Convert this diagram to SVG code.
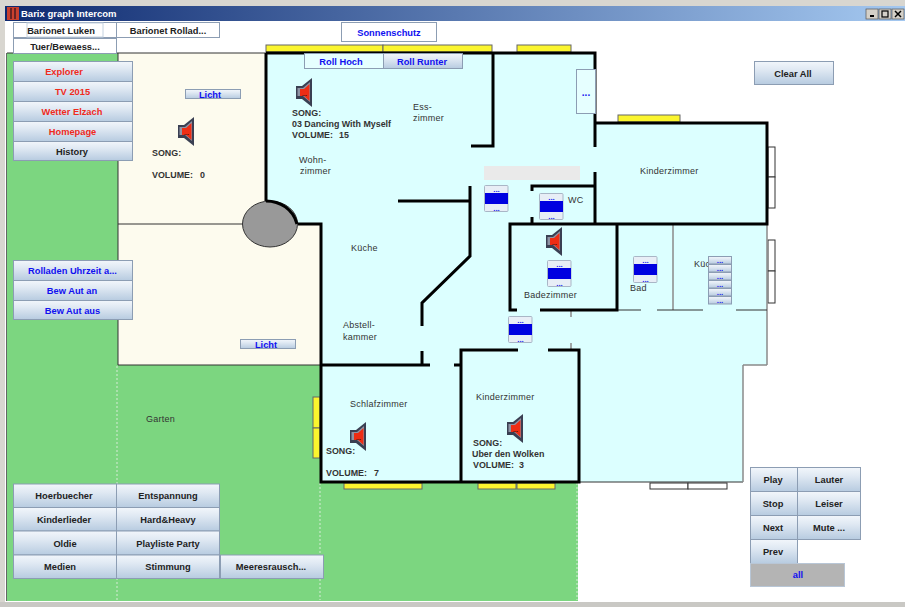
<svg xmlns="http://www.w3.org/2000/svg" xmlns:xlink="http://www.w3.org/1999/xlink" width="905" height="607" viewBox="0 0 905 607">
<style>
text{font-family:"Liberation Sans",Arial,sans-serif;font-size:9.300px;font-weight:bold;fill:#222;}
.c{text-anchor:middle}
.red{fill:#f02a1c}
.blue{fill:#1010f0}
.room{font-weight:normal;font-size:9px;letter-spacing:.25px;fill:#333}
.info{fill:#333;font-size:8.900px}
.btn{fill:url(#metal);stroke:#8c9db3;stroke-width:1}
.flat{fill:#fff;stroke:#8c9db3;stroke-width:1}
.wall{fill:none;stroke:#000;stroke-width:3}
.thin{fill:none;stroke:#333;stroke-width:1}
.grey{fill:none;stroke:#8a8a8a;stroke-width:1.5}
.win{fill:#fbf52e;stroke:#666;stroke-width:1}
.wwin{fill:#fff;stroke:#333;stroke-width:1}
.dots{font-size:8px;fill:#2020f0}
.dash{stroke:#d6ecd6;stroke-width:1;stroke-dasharray:2 2;fill:none}
</style>
<defs>
<linearGradient id="metal" x1="0" y1="0" x2="0" y2="1"><stop offset="0" stop-color="#f2f6fb"/><stop offset=".35" stop-color="#e0e9f3"/><stop offset="1" stop-color="#b7cbe0"/></linearGradient>
<linearGradient id="title" x1="0" y1="0" x2="1" y2="0"><stop offset="0" stop-color="#0e2a70"/><stop offset="1" stop-color="#a4c8f0"/></linearGradient>
<g id="speaker">
<path d="M0 8H6L16 0V29L6 21H0Z" fill="#3a3f52"/>
<path d="M1.500 10H7L14 4V24L7 18H1.500Z" fill="#8f93a4"/>
<path d="M4 11H8L13.500 6V23L8 18H4Z" fill="#ee2d14"/>
<text x="8.500" y="18" class="c" style="font-size:6px;fill:#111">...</text>
</g>
<g id="blind">
<rect x=".5" y=".5" width="23.500" height="26" rx="1" fill="#e8eef6" stroke="#a9b6c6"/>
<rect x="1" y="8" width="23" height="11" fill="#0000e0"/>
<text x="12.500" y="7" class="c dots">...</text>
<text x="12.500" y="25.500" class="c dots">...</text>
</g>
<g id="slat">
<rect x=".5" y=".5" width="23" height="7.500" class="btn"/>
<text x="12" y="7" class="c dots">...</text>
</g>
</defs>

<g id="window">
<rect width="905" height="607" fill="#fff"/>
<rect width="905" height="6" fill="#d8d6d0"/>
<rect y="0" width="5" height="607" fill="#d8d6d0"/>
<rect y="602" width="905" height="5" fill="#c9c8c4"/>
<rect x="5" y="6" width="900" height="15" fill="url(#title)"/>
<rect x="7" y="7" width="12" height="13" fill="#c9402e"/>
<path d="M11 8V19M15 8V19" stroke="#4a1a20" stroke-width="1.500"/>
<text x="21" y="17" style="fill:#fff;font-size:9.500px">Barix graph Intercom</text>
<g fill="#d4d0c8" stroke="#555" stroke-width=".7">
<rect x="866" y="9" width="12" height="10"/><rect x="879" y="9" width="12" height="10"/><rect x="892" y="9" width="12" height="10"/>
</g>
<path d="M870 16H874" stroke="#000" stroke-width="2"/>
<rect x="882" y="11" width="6" height="6" fill="none" stroke="#000" stroke-width="1.200"/>
<path d="M895 11L901 17M901 11L895 17" stroke="#000" stroke-width="1.500"/>
</g>

<g id="plan">
<rect x="7" y="53" width="571" height="548" fill="#7cd680"/>
<path d="M118 53H266V224H321V365H118Z" fill="#fdfbee"/>
<path d="M266 53H595V123H767V365H743V482H321V224H266Z" fill="#dcffff"/>
<path d="M117 366V600M320 483V600M577 483V600" class="dash"/>
<path d="M6.500 53V601" stroke="#666" fill="none"/>
<rect x="484" y="166" width="96" height="14" fill="#eaeaea"/>
</g>

<g id="windows">
<rect x="266" y="45" width="117" height="7" class="win"/>
<rect x="383" y="45" width="109" height="7" class="win"/>
<rect x="517" y="45" width="54" height="7" class="win"/>
<rect x="618" y="115" width="62" height="7" class="win"/>
<rect x="313" y="397" width="7" height="31" class="win"/>
<rect x="313" y="428" width="7" height="30" class="win"/>
<rect x="344" y="483" width="78" height="6" class="win"/>
<rect x="478" y="483" width="38" height="6" class="win"/>
<rect x="517" y="483" width="38" height="6" class="win"/>
<rect x="768" y="147" width="7" height="30" class="wwin"/>
<rect x="768" y="177" width="7" height="31" class="wwin"/>
<rect x="768" y="240" width="7" height="31" class="wwin"/>
<rect x="768" y="271" width="7" height="32" class="wwin"/>
<rect x="650" y="483" width="38" height="6" class="wwin"/>
<rect x="688" y="483" width="39" height="6" class="wwin"/>
</g>

<g id="connectors">
<path class="thin" d="M7 53H266M118 53V365M118 224H243M118 365H321M579 482H743"/>
<path class="grey" d="M767 224V365M743 365H767M743 365V482M673 224V310M571 310V317M571 343V350"/>
<path class="thin" d="M617 310H641M657 310H703M736 310H767"/>
<path class="wall" d="M266 53H595V147M595 172V224M595 123H767V224H510V310H517M540 310H617V224"/>
<path class="wall" d="M493 53V146H471M398 201H470M470 186V256L422 303V326M422 351V365M321 365H430M454 365H461M298 224H321V482H579V350H548M518 350H461V482"/>
<path class="wall" d="M532 191V186H595M532 217V224M266 53V201"/>
<ellipse cx="270" cy="224" rx="27.500" ry="23" fill="#999" stroke="#333" stroke-width="1"/>
<path d="M266 201C280 201 293 209 297 224" class="wall"/>
</g>

<g id="labels">
<text class="room" x="413" y="110">Ess-</text>
<text class="room" x="413" y="121">zimmer</text>
<text class="room" x="299" y="163">Wohn-</text>
<text class="room" x="300" y="174">zimmer</text>
<text class="room" x="351" y="251">Küche</text>
<text class="room" x="343" y="328">Abstell-</text>
<text class="room" x="343" y="340">kammer</text>
<text class="room" x="568" y="203">WC</text>
<text class="room" x="640" y="174">Kinderzimmer</text>
<text class="room" x="524" y="298">Badezimmer</text>
<text class="room" x="630" y="291">Bad</text>
<text class="room" x="694" y="267">Küc</text>
<text class="room" x="146" y="422">Garten</text>
<text class="room" x="350" y="407">Schlafzimmer</text>
<text class="room" x="476" y="400">Kinderzimmer</text>
</g>

<g id="speaker-1"><use href="#speaker" x="178" y="117"/><text class="info" x="152" y="156">SONG:</text><text class="info" x="152" y="178">VOLUME:</text><text class="info" x="200" y="178">0</text></g>
<g id="speaker-2"><use href="#speaker" x="296" y="78"/><text class="info" x="292" y="116">SONG:</text><text class="info" x="292" y="127">03 Dancing With Myself</text><text class="info" x="292" y="138">VOLUME:</text><text class="info" x="339" y="138">15</text></g>
<g id="speaker-3"><use href="#speaker" x="546" y="227"/></g>
<g id="speaker-4"><use href="#speaker" x="350" y="422"/><text class="info" x="326" y="454">SONG:</text><text class="info" x="326" y="476">VOLUME:</text><text class="info" x="374" y="476">7</text></g>
<g id="speaker-5"><use href="#speaker" x="507" y="414"/><text class="info" x="473" y="446">SONG:</text><text class="info" x="472" y="457">Uber den Wolken</text><text class="info" x="473" y="468">VOLUME:</text><text class="info" x="519" y="468">3</text></g>

<g id="blind-1"><use href="#blind" x="484" y="185"/></g>
<g id="blind-2"><use href="#blind" x="539" y="193"/></g>
<g id="blind-3"><use href="#blind" x="547" y="260"/></g>
<g id="blind-4"><use href="#blind" x="633" y="256"/></g>
<g id="blind-5"><use href="#blind" x="508" y="316"/></g>
<g id="blind-stack"><use href="#slat" x="708" y="256"/><use href="#slat" x="708" y="264"/><use href="#slat" x="708" y="272"/><use href="#slat" x="708" y="280"/><use href="#slat" x="708" y="288"/><use href="#slat" x="708" y="296"/></g>

<g id="tabs">
<g id="btn-luken"><rect class="flat" x="13.500" y="22.500" width="103" height="15"/><rect x="27" y="23" width="76" height="14" fill="none" stroke="#c4d2e0"/><text class="c" x="61" y="34">Barionet Luken</text></g>
<g id="btn-rollad"><rect class="flat" x="116.500" y="22.500" width="103" height="15"/><text class="c" x="168" y="34">Barionet Rollad...</text></g>
<g id="btn-tuer"><rect class="flat" x="13.500" y="38.500" width="103" height="15"/><text class="c" x="65" y="50">Tuer/Bewaess...</text></g>
<g id="btn-sonne"><rect class="flat" x="341.500" y="22.500" width="95" height="19"/><text class="c blue" x="389" y="36">Sonnenschutz</text></g>
<g id="btn-hoch"><rect class="flat" x="304.500" y="53.500" width="79" height="15" style="fill:#e6ffff"/><text class="c blue" x="341" y="65">Roll Hoch</text></g>
<g id="btn-runter"><rect class="btn" x="383.500" y="53.500" width="79" height="15"/><text class="c blue" x="422" y="65">Roll Runter</text></g>
<g id="btn-dots"><rect class="flat" x="576.500" y="69.500" width="19" height="44" style="fill:#e6ffff"/><text class="c dots" x="586" y="96" style="font-size:10px">...</text></g>
<g id="btn-clear"><rect class="btn" x="754.500" y="61.500" width="79" height="23"/><text class="c" x="793" y="77">Clear All</text></g>
<g id="btn-licht1"><rect class="btn" x="185.500" y="89.500" width="55" height="9"/><text class="c blue" x="210" y="98">Licht</text></g>
<g id="btn-licht2"><rect class="btn" x="240.500" y="339.500" width="55" height="9"/><text class="c blue" x="266" y="348">Licht</text></g>
</g>

<g id="menu">
<g id="btn-explorer"><rect class="btn" x="13.500" y="61.500" width="119" height="20"/><text class="c red" x="64" y="75">Explorer</text></g>
<g id="btn-tv"><rect class="btn" x="13.500" y="81.500" width="119" height="20"/><text class="c red" x="72.500" y="95">TV 2015</text></g>
<g id="btn-wetter"><rect class="btn" x="13.500" y="101.500" width="119" height="20"/><text class="c red" x="72" y="115">Wetter Elzach</text></g>
<g id="btn-home"><rect class="btn" x="13.500" y="121.500" width="119" height="20"/><text class="c red" x="72.500" y="135">Homepage</text></g>
<g id="btn-history"><rect class="btn" x="13.500" y="141.500" width="119" height="19"/><text class="c" x="72" y="155">History</text></g>
<g id="btn-rolladen"><rect class="btn" x="13.500" y="260.500" width="119" height="20"/><text class="c blue" x="72.500" y="274">Rolladen Uhrzeit a...</text></g>
<g id="btn-bewan"><rect class="btn" x="13.500" y="280.500" width="119" height="20"/><text class="c blue" x="72" y="294">Bew Aut an</text></g>
<g id="btn-bewaus"><rect class="btn" x="13.500" y="300.500" width="119" height="19"/><text class="c blue" x="72.500" y="314">Bew Aut aus</text></g>
</g>

<g id="playlists">
<g id="btn-hoer"><rect class="btn" x="13.500" y="484" width="103" height="23.500"/><text class="c" x="64" y="499">Hoerbuecher</text></g>
<g id="btn-entsp"><rect class="btn" x="116.500" y="484" width="103" height="23.500"/><text class="c" x="168" y="499">Entspannung</text></g>
<g id="btn-kinder"><rect class="btn" x="13.500" y="507.500" width="103" height="23.500"/><text class="c" x="64" y="523">Kinderlieder</text></g>
<g id="btn-hard"><rect class="btn" x="116.500" y="507.500" width="103" height="23.500"/><text class="c" x="168" y="523">Hard&amp;Heavy</text></g>
<g id="btn-oldie"><rect class="btn" x="13.500" y="531" width="103" height="24"/><text class="c" x="65" y="547">Oldie</text></g>
<g id="btn-party"><rect class="btn" x="116.500" y="531" width="103" height="24"/><text class="c" x="168" y="547">Playliste Party</text></g>
<g id="btn-medien"><rect class="btn" x="13.500" y="555" width="103" height="23.500"/><text class="c" x="60" y="570">Medien</text></g>
<g id="btn-stimm"><rect class="btn" x="116.500" y="555" width="103" height="23.500"/><text class="c" x="168" y="570">Stimmung</text></g>
<g id="btn-meer"><rect class="btn" x="220.500" y="555" width="103" height="23.500"/><text class="c" x="271" y="570">Meeresrausch...</text></g>
</g>

<g id="player">
<g id="btn-play"><rect class="btn" x="750.500" y="467.500" width="47" height="24"/><text class="c" x="773" y="483">Play</text></g>
<g id="btn-lauter"><rect class="btn" x="797.500" y="467.500" width="63" height="24"/><text class="c" x="829" y="483">Lauter</text></g>
<g id="btn-stop"><rect class="btn" x="750.500" y="491.500" width="47" height="24"/><text class="c" x="773" y="507">Stop</text></g>
<g id="btn-leiser"><rect class="btn" x="797.500" y="491.500" width="63" height="24"/><text class="c" x="829" y="507">Leiser</text></g>
<g id="btn-next"><rect class="btn" x="750.500" y="515.500" width="47" height="24"/><text class="c" x="773" y="531">Next</text></g>
<g id="btn-mute"><rect class="btn" x="797.500" y="515.500" width="63" height="24"/><text class="c" x="829" y="531">Mute ...</text></g>
<g id="btn-prev"><rect class="btn" x="750.500" y="539.500" width="47" height="24"/><text class="c" x="773" y="555">Prev</text></g>
<g id="btn-all"><rect x="750.500" y="563.500" width="94" height="23" fill="#b4b4b4" stroke="#b8c6d6"/><text class="c blue" x="798" y="578">all</text></g>
</g>
</svg>
